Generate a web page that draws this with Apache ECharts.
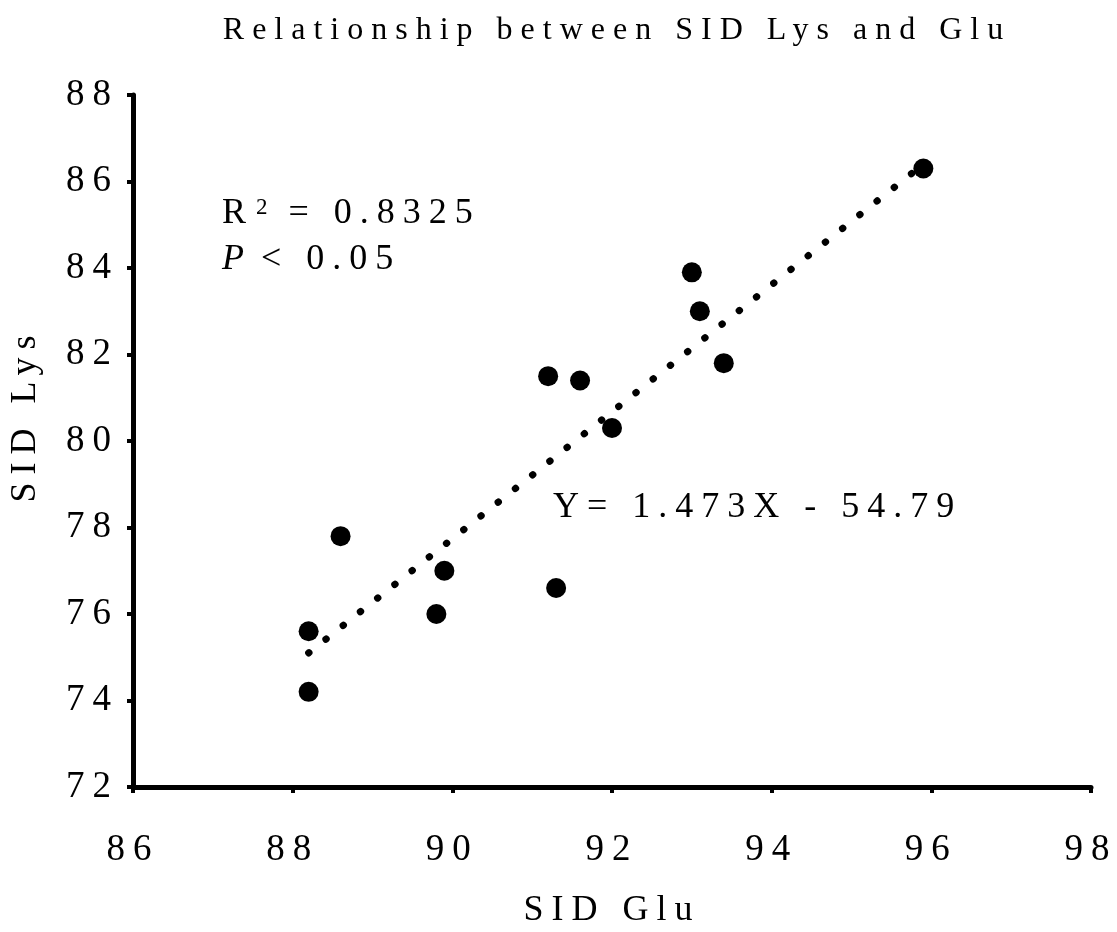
<!DOCTYPE html>
<html>
<head>
<meta charset="utf-8">
<title>Relationship between SID Lys and Glu</title>
<script src="https://cdn.jsdelivr.net/npm/echarts@6/dist/echarts.min.js"></script>
<style>
  html, body { margin: 0; padding: 0; background: #fff; }
  #chart { width: 1117px; height: 932px; }
</style>
</head>
<body>
<div id="chart"></div>
<script>
  var glu = [95.9, 93.0, 93.1, 93.4, 91.2, 91.6, 92.0, 88.6, 89.9, 89.8, 91.3, 88.2, 88.2];
  var lys = [86.3, 83.9, 83.0, 81.8, 81.5, 81.4, 80.3, 77.8, 77.0, 76.0, 76.6, 75.6, 74.2];

  // ends of the dotted trend line
  var trendGlu = [88.2, 95.9];
  var trendLys = [75.1, 86.4];

  var xTicks = [86, 88, 90, 92, 94, 96, 98];
  var yTicks = [72, 74, 76, 78, 80, 82, 84, 86, 88];

  var serif = "'Liberation Serif', 'Times New Roman', serif";

  var points = glu.map(function (g, i) { return [g, lys[i]]; });
  var trend = trendGlu.map(function (g, i) { return [g, trendLys[i]]; });

  var chart = echarts.init(document.getElementById('chart'), null, {renderer: 'canvas'});

  var axisCommon = {
    type: 'value',
    nameLocation: 'middle',
    nameTextStyle: {color: '#000', fontFamily: serif, fontSize: 36},
    axisLine: {show: true, lineStyle: {color: '#000', width: 5}},
    axisTick: {show: true, length: 6, lineStyle: {color: '#000', width: 4}},
    axisLabel: {color: '#000', fontFamily: serif, fontSize: 37},
    splitLine: {show: false}
  };

  chart.setOption({
    animation: false,
    backgroundColor: '#fff',
    title: {
      text: 'Relationship between SID Lys and Glu',
      left: 612,
      top: 10,
      textAlign: 'center',
      textStyle: {color: '#000', fontFamily: serif, fontSize: 32, fontWeight: 'normal'}
    },
    grid: {left: 133, right: 26, top: 95, bottom: 145, containLabel: false, outerBoundsMode: 'none'},
    xAxis: Object.assign({}, axisCommon, {
      name: 'SID Glu',
      nameGap: 106,
      min: xTicks[0],
      max: xTicks[xTicks.length - 1],
      interval: xTicks[1] - xTicks[0],
      axisLabel: Object.assign({}, axisCommon.axisLabel, {margin: 45})
    }),
    yAxis: Object.assign({}, axisCommon, {
      name: 'SID Lys',
      nameGap: 89,
      nameRotate: 90,
      nameTextStyle: Object.assign({}, axisCommon.nameTextStyle, {padding: [0, 0, 0, 52]}),
      min: yTicks[0],
      max: yTicks[yTicks.length - 1],
      interval: yTicks[1] - yTicks[0],
      axisLabel: Object.assign({}, axisCommon.axisLabel, {margin: 14, padding: [11, 0, 0, 0]})
    }),
    graphic: [
      {
        type: 'text',
        left: 222,
        top: 187,
        style: {
          text: '{r|R}{s|2}{r| = 0.8325}',
          rich: {
            r: {fontFamily: serif, fontSize: 36, lineHeight: 36, verticalAlign: 'bottom', padding: [9, 0, 0, 0], fill: '#000'},
            s: {fontFamily: serif, fontSize: 23, lineHeight: 23, verticalAlign: 'top', fill: '#000', padding: [0, 4, 0, 10]}
          }
        }
      },
      {
        type: 'text',
        left: 222,
        top: 242,
        style: {
          text: '{i|P}{r| < 0.05}',
          rich: {
            i: {fontFamily: serif, fontSize: 36, fontStyle: 'italic', fill: '#000'},
            r: {fontFamily: serif, fontSize: 36, fill: '#000'}
          }
        }
      },
      {
        type: 'text',
        left: 553,
        top: 490,
        style: {text: 'Y= 1.473X - 54.79', font: '36px ' + serif, fill: '#000'}
      }
    ],
    series: [
      {
        name: 'trend',
        type: 'line',
        data: trend,
        symbol: 'none',
        silent: true,
        lineStyle: {color: '#000', width: 7, type: [0.5, 21.5], cap: 'round'}
      },
      {
        name: 'SID Lys vs Glu',
        type: 'scatter',
        data: points,
        symbol: 'circle',
        symbolSize: 20,
        itemStyle: {color: '#000', opacity: 1}
      }
    ]
  });

  // the original has expanded character spacing on all its text,
  // so widen it on the drawing context and paint once more
  var canvas = document.querySelector('#chart canvas');
  if (canvas) {
    var ctx = canvas.getContext('2d');
    if ('letterSpacing' in ctx) {
      ctx.letterSpacing = '8px';
      var zr = chart.getZr();
      if (zr.painter && zr.painter.refresh) {
        zr.painter.refresh(true);
      }
    }
  }

  window.addEventListener('resize', function () {
    chart.resize();
  });
</script>
</body>
</html>
